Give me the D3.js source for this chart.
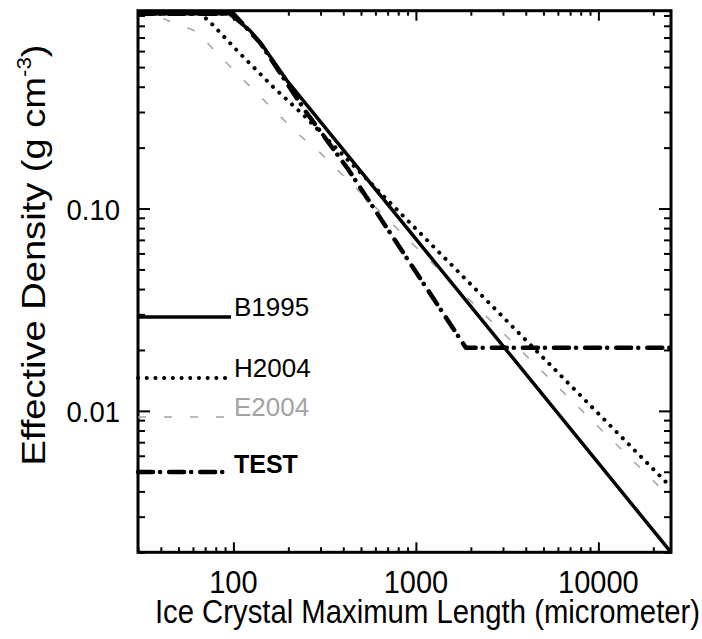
<!DOCTYPE html>
<html>
<head>
<meta charset="utf-8">
<script src="https://cdn.jsdelivr.net/npm/d3@7"></script>
<style>
  html, body { margin: 0; padding: 0; background: #fff; }
  svg { display: block; }
  text { font-family: "Liberation Sans", Arial, Helvetica, sans-serif; fill: #000; }
</style>
</head>
<body>
<svg id="chart" width="702" height="639"></svg>
<script>
// Effective density of ice crystals versus maximum dimension, four parameterisations.
// Sizes in micrometers, densities in g cm^-3 (ice density plateau at small sizes).

const sizeB1995 = [30, 95, 123, 146, 196, 25000];
const rhoB1995  = [0.917, 0.917, 0.76, 0.63, 0.43, 0.002];

const sizeH2004 = [30, 66, 75, 106, 165, 241, 25000];
const rhoH2004  = [0.917, 0.917, 0.83, 0.597, 0.399, 0.291, 0.0042];

const sizeE2004 = [30, 36, 45, 63, 81, 104, 134, 222, 298, 25000];
const rhoE2004  = [0.917, 0.917, 0.84, 0.75, 0.587, 0.468, 0.373, 0.237, 0.189, 0.0037];

const sizeTEST = [30, 100, 140, 250, 426, 1880, 25000];
const rhoTEST  = [0.917, 0.917, 0.66, 0.30, 0.156, 0.0205, 0.0205];

const seriesNames = ["B1995", "H2004", "E2004", "TEST"];

const xMajor = [100, 1000, 10000];
const xMajorLabels = ["100", "1000", "10000"];
const yMajor = [0.01, 0.1];
const yMajorLabels = ["0.01", "0.10"];

const xDomain = [30, 25000];
const yDomain = [0.002, 0.95];

// ---- layout ----
const box = { left: 138, right: 671, top: 10.7, bottom: 552.3 };
const svg = d3.select("#chart");

const x = d3.scaleLog().domain(xDomain).range([box.left, box.right]);
const y = d3.scaleLog().domain(yDomain).range([box.bottom, box.top]);

// minor tick values: every integer multiple inside each decade
function minorTicks(domain, majors) {
  const out = [];
  const lo = Math.floor(Math.log10(domain[0])), hi = Math.ceil(Math.log10(domain[1]));
  for (let e = lo; e <= hi; e++) {
    for (let m = 1; m <= 9; m++) {
      const v = +(m * Math.pow(10, e)).toPrecision(6);
      if (v >= domain[0] && v <= domain[1] && !majors.some(t => Math.abs(t - v) / v < 1e-6)) out.push(v);
    }
  }
  return out;
}
const xMinor = minorTicks(xDomain, xMajor);
const yMinor = minorTicks(yDomain, yMajor);

// ---- ticks on all four sides, pointing inward ----
const W = box.right - box.left, H = box.bottom - box.top;
function tickGroup(axis, tx, ty) {
  const g = svg.append("g").attr("transform", `translate(${tx},${ty})`).call(axis);
  g.select(".domain").remove();
  g.selectAll("text").remove();
  g.selectAll(".tick line").attr("stroke", "#000").attr("stroke-width", 2);
  return g;
}
tickGroup(d3.axisBottom(x).tickValues(xMinor).tickSizeInner(-5).tickSizeOuter(0), 0, box.bottom);
tickGroup(d3.axisBottom(x).tickValues(xMajor).tickSizeInner(-10).tickSizeOuter(0), 0, box.bottom);
tickGroup(d3.axisTop(x).tickValues(xMinor).tickSizeInner(-5).tickSizeOuter(0), 0, box.top);
tickGroup(d3.axisTop(x).tickValues(xMajor).tickSizeInner(-10).tickSizeOuter(0), 0, box.top);
tickGroup(d3.axisLeft(y).tickValues(yMinor).tickSizeInner(-7).tickSizeOuter(0), box.left, 0);
tickGroup(d3.axisLeft(y).tickValues(yMajor).tickSizeInner(-12).tickSizeOuter(0), box.left, 0);
tickGroup(d3.axisRight(y).tickValues(yMinor).tickSizeInner(-7).tickSizeOuter(0), box.right, 0);
tickGroup(d3.axisRight(y).tickValues(yMajor).tickSizeInner(-12).tickSizeOuter(0), box.right, 0);

// tick labels (the type is slightly tall for its width)
svg.append("g").selectAll("text").data(xMajor).join("text")
  .attr("transform", d => `translate(${x(d)},593) scale(1,1.06)`)
  .attr("text-anchor", "middle").attr("font-size", 29)
  .text((d, i) => xMajorLabels[i]);
svg.append("g").selectAll("text").data(yMajor).join("text")
  .attr("transform", d => `translate(120,${y(d) + 11}) scale(1,1.1)`)
  .attr("text-anchor", "end").attr("font-size", 27.5)
  .text((d, i) => yMajorLabels[i]);

// ---- curves ----
svg.append("clipPath").attr("id", "plotClip")
  .append("rect").attr("x", box.left).attr("y", box.top - 4).attr("width", W).attr("height", H + 4);

const line = d3.line().x(d => x(d[0])).y(d => y(d[1]));
const styles = {
  B1995: { stroke: "#000", width: 3.5, dash: null, cap: "butt" },
  H2004: { stroke: "#000", width: 4, dash: "0.1,8.6", cap: "round" },
  E2004: { stroke: "#a3a3a3", width: 1.5, dash: "8,18", cap: "butt" },
  TEST:  { stroke: "#000", width: 4.5, dash: "15,7,0.1,9", cap: "round" }
};
const data = {
  B1995: d3.zip(sizeB1995, rhoB1995),
  H2004: d3.zip(sizeH2004, rhoH2004),
  E2004: d3.zip(sizeE2004, rhoE2004),
  TEST:  d3.zip(sizeTEST, rhoTEST)
};

const plot = svg.append("g").attr("clip-path", "url(#plotClip)");
["E2004", "H2004", "B1995", "TEST"].forEach(name => {
  const s = styles[name];
  plot.append("path")
    .datum(data[name])
    .attr("d", line)
    .attr("fill", "none")
    .attr("stroke", s.stroke)
    .attr("stroke-width", s.width)
    .attr("stroke-linecap", s.cap)
    .attr("stroke-linejoin", "round")
    .attr("stroke-dasharray", s.dash);
});

// ---- frame ----
svg.append("rect")
  .attr("x", box.left).attr("y", box.top).attr("width", W).attr("height", H)
  .attr("fill", "none").attr("stroke", "#000").attr("stroke-width", 3);

// ---- legend (inside, left) ----
const legendRows = [
  { name: "B1995", y: 317, textY: 316, color: "#000", weight: "normal", size: 26 },
  { name: "H2004", y: 378, textY: 377, color: "#000", weight: "normal", size: 26 },
  { name: "E2004", y: 417, textY: 416, color: "#a3a3a3", weight: "normal", size: 26 },
  { name: "TEST",  y: 472, textY: 473, color: "#000", weight: "bold", size: 25 }
];
const legend = svg.append("g");
legendRows.forEach(r => {
  const s = styles[r.name];
  legend.append("line")
    .attr("x1", box.left).attr("x2", 231).attr("y1", r.y).attr("y2", r.y)
    .attr("stroke", s.stroke).attr("stroke-width", s.width)
    .attr("stroke-linecap", s.cap).attr("stroke-dasharray", s.dash);
  legend.append("text")
    .attr("x", 234).attr("y", r.textY)
    .attr("font-size", r.size).attr("font-weight", r.weight)
    .style("fill", r.color)
    .text(r.name);
});

// ---- axis titles ----
svg.append("text")
  .attr("transform", `translate(${(box.left + box.right) / 2 + 23},623) scale(1,1.12)`)
  .attr("text-anchor", "middle").attr("font-size", 29.3)
  .text("Ice Crystal Maximum Length (micrometer)");

const yt = svg.append("text")
  .attr("transform", "translate(45,255) scale(1,1.12) rotate(-90)")
  .attr("text-anchor", "middle").attr("font-size", 34);
yt.append("tspan").text("Effective Density (g cm");
yt.append("tspan").attr("font-size", 20).attr("dy", -14).text("-3");
yt.append("tspan").attr("dy", 14).text(")");
</script>
</body>
</html>
